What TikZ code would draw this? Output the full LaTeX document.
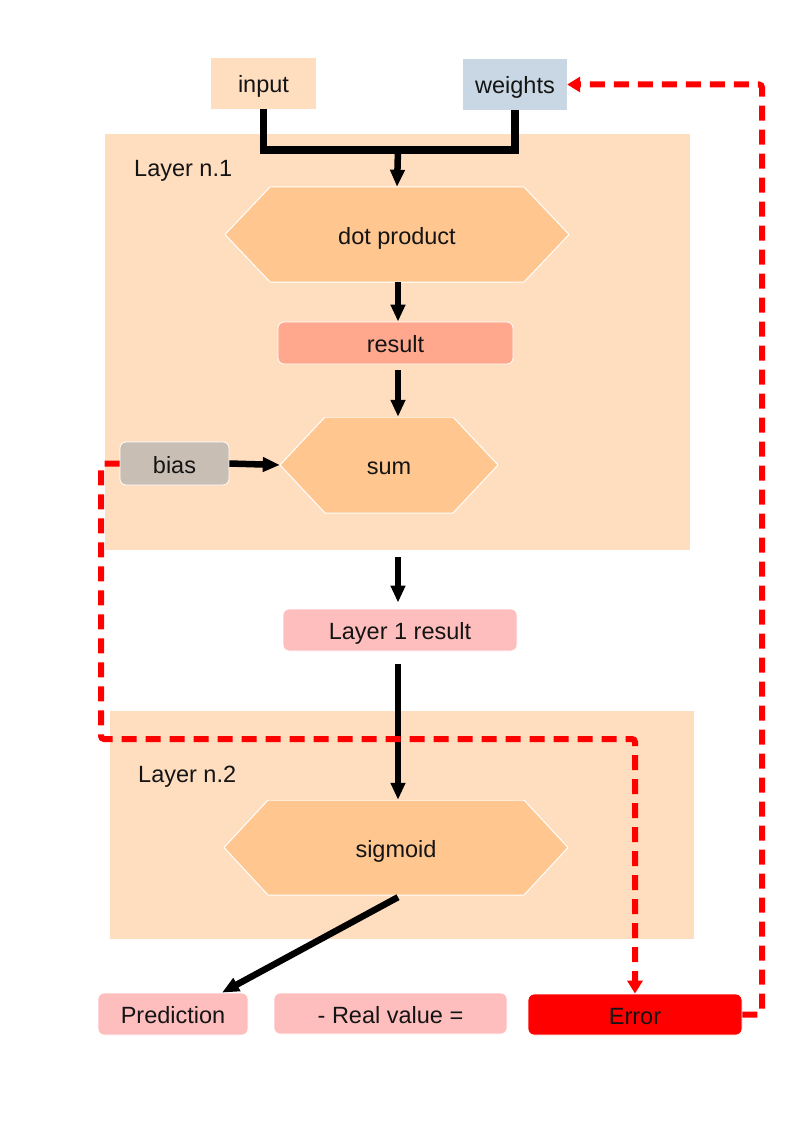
\documentclass[tikz,border=0pt]{standalone}
\usepackage{fontspec}
\setmainfont{Liberation Sans}
\usetikzlibrary{arrows.meta}
\definecolor{peach}{RGB}{255,222,192}
\definecolor{hexfill}{RGB}{255,198,143}
\definecolor{salmon}{RGB}{255,168,142}
\definecolor{pinkbox}{RGB}{255,190,190}
\definecolor{biasgray}{RGB}{201,190,180}
\definecolor{wblue}{RGB}{201,215,228}
\definecolor{txt}{RGB}{20,20,20}
\tikzset{
  every node/.style={font=\fontsize{23.5}{27}\selectfont, text=txt, inner sep=0pt,
    text height=22pt, text depth=3pt},
  layerbox/.style={fill=peach, draw=none},
  plainbox/.style={draw=none},
  roundbox/.style={draw=white, line width=0.8pt, rounded corners=6pt},
  hexnode/.style={draw=none, path picture={
      \fill[hexfill, draw=white, line width=1pt]
        (path picture bounding box.west)
        -- ([xshift=#1]path picture bounding box.north west)
        -- ([xshift=-#1]path picture bounding box.north east)
        -- (path picture bounding box.east)
        -- ([xshift=-#1]path picture bounding box.south east)
        -- ([xshift=#1]path picture bounding box.south west) -- cycle;}},
  blackarrow/.style={line width=6.5pt, -{Triangle[length=17pt,width=14pt]}},
  blackline/.style={line width=7.5pt},
  reddash/.style={draw=red, line width=6pt, dash pattern=on 15pt off 9pt, rounded corners=3pt},
  redtip/.style={-{Triangle[length=13pt,width=15pt]}}
}
\begin{document}
\begin{tikzpicture}[x=1pt,y=-1pt]
\useasboundingbox[fill=white] (0,0) rectangle (794,1123);

% layers
\node[layerbox, minimum width=585pt, minimum height=416pt] (layer1) at (397.5,342) {};
\node[layerbox, minimum width=584pt, minimum height=228pt] (layer2) at (402,825) {};
\node[anchor=west] (lab1) at (134,167) {Layer n.1};
\node[anchor=west] (lab2) at (138,773) {Layer n.2};

% inputs
\node[plainbox, fill=peach, minimum width=105pt, minimum height=51pt] (input) at (263.5,83.5) {input};
\node[plainbox, fill=wblue, minimum width=104pt, minimum height=51pt] (weights) at (515,84.5) {weights};

% layer 1
\node[hexnode=45pt, minimum width=344pt, minimum height=95pt] (dot) at (397,234.5) {dot product};
\node[roundbox, fill=salmon, minimum width=235pt, minimum height=42pt] (result) at (395.5,343) {result};
\node[hexnode=45pt, minimum width=218pt, minimum height=96pt] (sum) at (389,465) {sum};
\node[roundbox, fill=biasgray, minimum width=109pt, minimum height=43pt] (bias) at (174.5,463.5) {bias};

\node[roundbox, fill=pinkbox, minimum width=234pt, minimum height=42pt] (l1res) at (400,630) {Layer 1 result};

% layer 2
\node[hexnode=44pt, minimum width=344pt, minimum height=95pt] (sigmoid) at (396,847.5) {sigmoid};

% bottom row
\node[roundbox, fill=pinkbox, minimum width=150pt, minimum height=42pt] (pred) at (173,1014) {Prediction};
\node[roundbox, fill=pinkbox, minimum width=233pt, minimum height=41pt] (real) at (390.5,1013.5) {- Real value =};
\node[roundbox, fill=red, minimum width=214pt, minimum height=41pt] (error) at (635,1014.5) {Error};

% black connectors
\coordinate (join) at (398,150);
\draw[blackline] (input.south) |- (join) -| (weights.south);
\draw[blackarrow] (join) -- (dot.north);
\draw[blackarrow] ([xshift=1pt]dot.south) -- ([xshift=2.5pt]result.north);
\draw[blackarrow, shorten <=6pt] ([xshift=2.5pt]result.south) -- ([xshift=9pt]sum.north);
\draw[blackarrow] (bias.east) -- (sum.west);
\draw[blackarrow, shorten <=7pt, shorten >=6pt] ([xshift=-2pt]l1res.north |- layer1.south) -- ([xshift=-2pt]l1res.north);
\draw[blackarrow, shorten <=13pt] ([xshift=-2pt]l1res.south) -- ([xshift=2pt]sigmoid.north);
\draw[blackarrow] ([xshift=2pt,yshift=-2pt]sigmoid.south) -- ([xshift=49pt]pred.north);

% red dashed feedback
\coordinate (c1) at (101,739);
\coordinate (c2) at (762,84.5);
\draw[reddash, redtip] (bias.west) -| (c1) -| (error.north);
\draw[reddash, redtip] (error.east) -| (c2) -- (weights.east);
\end{tikzpicture}
\end{document}
